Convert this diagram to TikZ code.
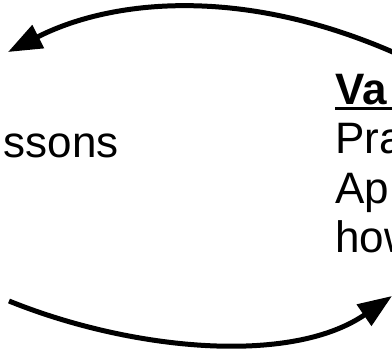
\documentclass[tikz,border=0pt]{standalone}
\usepackage{fontspec}
\setmainfont{Liberation Sans}
\usetikzlibrary{arrows.meta}
\tikzset{
  flow/.style={line width=5pt, -{Triangle[length=34pt,width=25pt]}},
  txt/.style={font=\fontsize{44pt}{50pt}\selectfont, inner sep=0pt, anchor=base west},
  lefttxt/.style={font=\fontsize{44pt}{50pt}\selectfont, inner sep=0pt, anchor=base east}
}
\begin{document}
\begin{tikzpicture}[x=1pt,y=-1pt]
\useasboundingbox (0,0) rectangle (392,349);
\fill[white] (0,0) rectangle (392,349);
\clip (0,0) rectangle (392,349);
% left text
\node[lefttxt] (lessons) at (119,157) {ssons};
% right text block
\node[txt] (va) at (335,104) {\textbf{Va}};
\draw[line width=3.2pt] (335,108.5) -- (400,108.5);
\node[txt] (pra) at (335,153) {Pra};
\node[txt] (ap) at (335,203) {Ap};
\node[txt] (how) at (335,252) {how};
% arrows
\coordinate (ts) at (395,53);
\coordinate (te) at (8,52);
\draw[flow] (ts) .. controls (240,-15) and (110,0) .. (te);
\coordinate (bs) at (9,301);
\coordinate (be) at (392,296);
\draw[flow] (bs) .. controls (130,350) and (290,366) .. (be);
\end{tikzpicture}
\end{document}
